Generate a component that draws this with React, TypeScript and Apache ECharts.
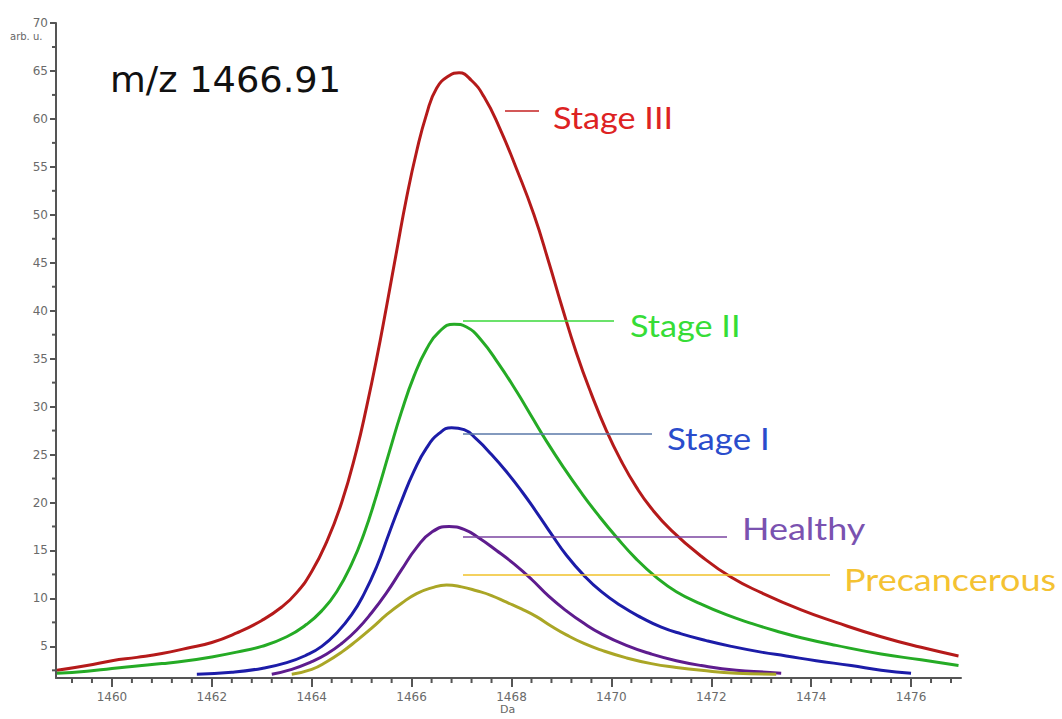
import React, { useEffect, useRef } from "react";
import * as echarts from "echarts";

// Mass spectrum peak profiles: [Da, arb. u.]
const stageIII: [number, number][] = [
  [1458.9, 2.5], [1459.5, 3.0], [1460, 3.5], [1460.5, 3.85], [1461, 4.25], [1461.5, 4.8],
  [1462, 5.4], [1462.5, 6.4], [1463, 7.7], [1463.4, 9.1], [1463.7, 10.6], [1464, 12.8],
  [1464.3, 15.9], [1464.6, 20.0], [1464.9, 25.5], [1465.1, 30.0], [1465.3, 35.0], [1465.5, 40.5],
  [1465.7, 46.2], [1465.9, 51.8], [1466.1, 56.6], [1466.3, 60.5], [1466.5, 63.2], [1466.75, 64.5],
  [1466.95, 64.8], [1467.2, 64.0], [1467.45, 62.3], [1467.75, 59.2], [1468.1, 54.8], [1468.45, 50.0],
  [1468.75, 45.0], [1469.0, 40.6], [1469.3, 35.6], [1469.6, 31.3], [1469.9, 27.5], [1470.2, 24.3],
  [1470.5, 21.6], [1470.8, 19.4], [1471.2, 17.1], [1471.8, 14.4], [1472.4, 12.2], [1473, 10.6],
  [1473.8, 8.8], [1474.5, 7.5], [1475.4, 6.0], [1476.2, 4.9], [1476.95, 4.0],
];
const stageII: [number, number][] = [
  [1458.9, 2.2], [1459.5, 2.4], [1460, 2.7], [1460.5, 2.95], [1461, 3.2], [1461.5, 3.5],
  [1462, 3.9], [1462.5, 4.4], [1463, 5.0], [1463.5, 6.0], [1463.9, 7.3], [1464.2, 8.7],
  [1464.5, 10.7], [1464.8, 13.6], [1465.05, 16.8], [1465.3, 20.8], [1465.55, 25.2], [1465.8, 29.5],
  [1466.05, 33.2], [1466.3, 36.0], [1466.55, 37.8], [1466.85, 38.6], [1467.1, 38.3], [1467.4, 36.9],
  [1467.75, 34.4], [1468.1, 31.6], [1468.4, 29.0], [1468.7, 26.4], [1469.05, 23.6], [1469.4, 21.0],
  [1469.75, 18.6], [1470.1, 16.4], [1470.5, 14.1], [1470.9, 12.2], [1471.3, 10.7], [1471.8, 9.4],
  [1472.3, 8.3], [1472.8, 7.4], [1473.3, 6.6], [1473.8, 5.9], [1474.5, 5.1], [1475.4, 4.2],
  [1476.2, 3.6], [1476.95, 3.0],
];
const stageI: [number, number][] = [
  [1461.7, 2.1], [1462.4, 2.3], [1463, 2.7], [1463.5, 3.3], [1463.9, 4.1], [1464.2, 5.0],
  [1464.5, 6.4], [1464.8, 8.3], [1465.05, 10.5], [1465.3, 13.3], [1465.55, 16.8], [1465.8, 20.2],
  [1466.05, 23.3], [1466.3, 25.7], [1466.55, 27.2], [1466.8, 27.8], [1467.05, 27.6], [1467.3, 26.6],
  [1467.6, 25.0], [1467.9, 23.2], [1468.2, 21.2], [1468.5, 19.0], [1468.8, 16.7], [1469.1, 14.5],
  [1469.45, 12.4], [1469.8, 10.7], [1470.2, 9.2], [1470.6, 8.0], [1471.0, 7.0], [1471.4, 6.3],
  [1471.9, 5.6], [1472.4, 5.0], [1473.0, 4.4], [1473.5, 4.0], [1474.1, 3.5], [1474.8, 3.0],
  [1475.4, 2.5], [1476.0, 2.2],
];
const healthy: [number, number][] = [
  [1463.2, 2.1], [1463.6, 2.6], [1464.0, 3.4], [1464.3, 4.2], [1464.6, 5.3], [1464.9, 6.7],
  [1465.2, 8.5], [1465.5, 10.6], [1465.8, 13.0], [1466.1, 15.3], [1466.4, 16.9], [1466.75, 17.5],
  [1467.05, 17.2], [1467.35, 16.3], [1467.7, 15.0], [1468.05, 13.6], [1468.4, 12.0], [1468.75, 10.2],
  [1469.1, 8.7], [1469.45, 7.4], [1469.8, 6.3], [1470.3, 5.1], [1470.8, 4.2], [1471.3, 3.5],
  [1471.8, 3.0], [1472.5, 2.5], [1473.1, 2.3], [1473.4, 2.2],
];
const precancerous: [number, number][] = [
  [1463.6, 2.1], [1464.0, 2.6], [1464.3, 3.4], [1464.6, 4.4], [1464.9, 5.6], [1465.2, 6.9],
  [1465.5, 8.3], [1465.8, 9.5], [1466.1, 10.5], [1466.4, 11.1], [1466.7, 11.4], [1467.0, 11.2],
  [1467.3, 10.8], [1467.6, 10.3], [1467.9, 9.6], [1468.2, 8.9], [1468.5, 8.1], [1468.8, 7.1],
  [1469.1, 6.2], [1469.45, 5.3], [1469.8, 4.6], [1470.3, 3.8], [1470.8, 3.2], [1471.3, 2.8],
  [1471.8, 2.5], [1472.5, 2.2], [1473.3, 2.1],
];

const xTickLabels = [1460, 1462, 1464, 1466, 1468, 1470, 1472, 1474, 1476];
const yTickLabels = [5, 10, 15, 20, 25, 30, 35, 40, 45, 50, 55, 60, 65, 70];

const X_MIN = 1458.88;
const X_MAX = 1477;
const Y_MIN = 1.7;
const Y_MAX = 70;

// minor ticks: 0.4 Da on x, 2.5 on y
const xMinorTicks: number[] = [];
for (let i = 14592; i <= 14768; i += 4) {
  if (i % 20 !== 0) xMinorTicks.push(i / 10);
}
const yMinorTicks = yTickLabels.map((v) => v - 2.5);

export default function App() {
  const ref = useRef<HTMLDivElement>(null);
  useEffect(() => {
    if (!ref.current) return;
    const chart = echarts.init(ref.current, undefined, { renderer: "svg" });
    const axisColor = "#555";
    const labelStyle = { color: "#6a6a6a", fontSize: 12, fontFamily: "DejaVu Sans" };
    const mkSeries = (name: string, data: [number, number][], color: string) => ({
      name,
      type: "line",
      data,
      smooth: 0.5,
      showSymbol: false,
      symbol: "none",
      lineStyle: { color, width: 3 },
      itemStyle: { color },
      z: 3,
    });
    const labelFont = "30px Lato";
    const baseGraphic: any[] = [
      { type: "text", left: 10, top: 31, style: { text: "arb. u.", fill: "#666", font: "10px 'DejaVu Sans'" } },
      { type: "text", left: 500, top: 704, style: { text: "Da", fill: "#666", font: "11px 'DejaVu Sans'" } },
      {
        type: "text", x: 110, y: 80, scaleX: 1.05,
        style: { text: "m/z 1466.91", fill: "#111", font: "35px 'DejaVu Sans'", textVerticalAlign: "middle" },
      },
      { type: "line", shape: { x1: 505, y1: 111, x2: 539, y2: 111 }, style: { stroke: "#c42020", lineWidth: 1.5 }, z: 10 },
      { type: "line", shape: { x1: 463, y1: 321, x2: 614, y2: 321 }, style: { stroke: "#3ad83a", lineWidth: 1.5 }, z: 10 },
      { type: "line", shape: { x1: 463, y1: 434, x2: 652, y2: 434 }, style: { stroke: "#5a78a8", lineWidth: 1.5 }, z: 10 },
      { type: "line", shape: { x1: 463, y1: 537, x2: 727, y2: 537 }, style: { stroke: "#7a44a0", lineWidth: 1.5 }, z: 10 },
      { type: "line", shape: { x1: 463, y1: 575, x2: 830, y2: 575 }, style: { stroke: "#f0c22a", lineWidth: 1.5 }, z: 10 },
      { type: "text", x: 553, y: 117, scaleX: 1.14, style: { text: "Stage III", fill: "#dd2222", font: labelFont, textVerticalAlign: "middle" }, z: 10 },
      { type: "text", x: 630, y: 325, scaleX: 1.14, style: { text: "Stage II", fill: "#36dd36", font: labelFont, textVerticalAlign: "middle" }, z: 10 },
      { type: "text", x: 667, y: 438, scaleX: 1.16, style: { text: "Stage I", fill: "#2a4ccc", font: labelFont, textVerticalAlign: "middle" }, z: 10 },
      { type: "text", x: 742, y: 528, scaleX: 1.2, style: { text: "Healthy", fill: "#7a52b0", font: labelFont, textVerticalAlign: "middle" }, z: 10 },
      { type: "text", x: 844, y: 579, scaleX: 1.2, style: { text: "Precancerous", fill: "#f4c232", font: labelFont, textVerticalAlign: "middle" }, z: 10 },
    ];
    chart.setOption({
      animation: false,
      backgroundColor: "#ffffff",
      grid: { left: 56, right: 101, top: 23, bottom: 41, containLabel: false },
      xAxis: {
        type: "value",
        min: X_MIN,
        max: X_MAX,
        position: "bottom",
        axisLine: { show: true, onZero: false, lineStyle: { color: axisColor, width: 2 } },
        axisTick: { show: true, customValues: xTickLabels, length: 9, lineStyle: { color: axisColor, width: 2 } },
        axisLabel: {
          show: true, customValues: xTickLabels, margin: 13, ...labelStyle,
          formatter: (v: number) => String(v),
        },
        splitLine: { show: false },
      },
      yAxis: {
        type: "value",
        min: Y_MIN,
        max: Y_MAX,
        position: "left",
        axisLine: { show: true, onZero: false, lineStyle: { color: axisColor, width: 2 } },
        axisTick: { show: true, customValues: yTickLabels, length: 6, lineStyle: { color: axisColor, width: 2 } },
        axisLabel: {
          show: true, customValues: yTickLabels, margin: 8, ...labelStyle,
          formatter: (v: number) => String(v),
        },
        splitLine: { show: false },
      },
      series: [
        mkSeries("Stage III", stageIII, "#b51a1a"),
        mkSeries("Stage II", stageII, "#25ab25"),
        mkSeries("Stage I", stageI, "#1c1ca8"),
        mkSeries("Healthy", healthy, "#5e1c8e"),
        mkSeries("Precancerous", precancerous, "#aaa626"),
      ],
      graphic: baseGraphic,
    });

    // minor ticks positioned through the axes' own scales
    const tickStyle = { stroke: axisColor, lineWidth: 2 };
    const minorGraphic: any[] = [];
    xMinorTicks.forEach((v) => {
      const pt = chart.convertToPixel({ gridIndex: 0 }, [v, Y_MIN]) as number[];
      if (pt) {
        minorGraphic.push({
          type: "line", silent: true, z: 20,
          shape: { x1: pt[0], y1: pt[1], x2: pt[0], y2: pt[1] + 5 },
          style: tickStyle,
        });
      }
    });
    yMinorTicks.forEach((v) => {
      const pt = chart.convertToPixel({ gridIndex: 0 }, [X_MIN, v]) as number[];
      if (pt) {
        minorGraphic.push({
          type: "line", silent: true, z: 20,
          shape: { x1: pt[0] - 4, y1: pt[1], x2: pt[0], y2: pt[1] },
          style: tickStyle,
        });
      }
    });
    chart.setOption({ graphic: [...baseGraphic, ...minorGraphic] });

    return () => chart.dispose();
  }, []);
  return (
    <div
      ref={ref}
      style={{ position: "fixed", left: 0, top: 0, width: 1062, height: 719, background: "#fff" }}
    />
  );
}
